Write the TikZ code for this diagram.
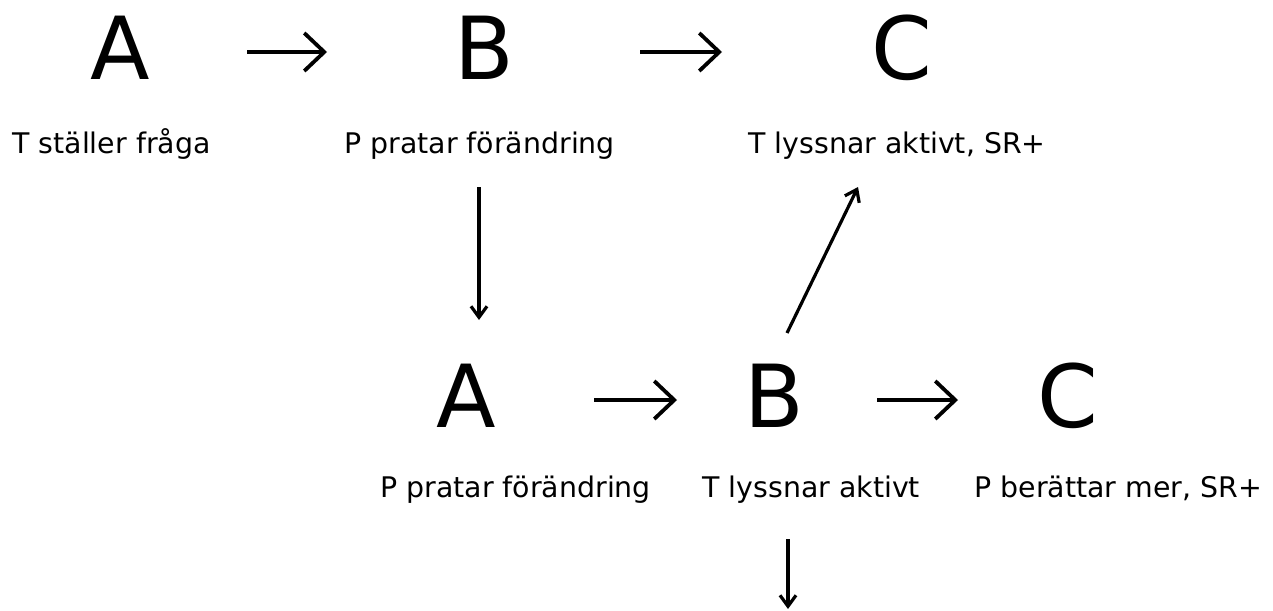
\documentclass[tikz,border=0pt]{standalone}
\usepackage{fontspec}
\setmainfont{DejaVu Sans}
\usetikzlibrary{arrows.meta}
\begin{document}
\begin{tikzpicture}[x=0.5pt,y=-0.5pt,
  letter/.style={anchor=base, inner sep=0pt, font=\fontsize{43.5}{52}\selectfont},
  lbl/.style={anchor=base west, inner sep=0pt, font=\fontsize{14.2}{17}\selectfont},
  harr/.style={line width=1.9pt, -{Straight Barb[length=10pt,width=19pt]}},
  varr/.style={line width=1.6pt, -{Straight Barb[length=5.5pt,width=8pt]}}]
\useasboundingbox (0,0) rectangle (1273,610);
% row 1
\node[letter] (A1) at (120,80) {A};
\node[letter] (B1) at (484,80) {B};
\node[letter] (C1) at (902,80) {C};
\node[lbl] (lA1) at (12,154) {T ställer fråga};
\node[lbl] (lB1) at (344,154) {P pratar förändring};
\node[lbl] (lC1) at (748,154) {T lyssnar aktivt, SR+};
% row 2
\node[letter] (A2) at (466,427) {A};
\node[letter] (B2) at (774,427) {B};
\node[letter] (C2) at (1068,427) {C};
\node[lbl] (lA2) at (380,497) {P pratar förändring};
\node[lbl] (lB2) at (702,497) {T lyssnar aktivt};
\node[lbl] (lC2) at (974,497) {P berättar mer, SR+};
% connector ends
\coordinate (h1s) at (247,52);  \coordinate (h1e) at (327,52);
\coordinate (h2s) at (640,52);  \coordinate (h2e) at (722,52);
\coordinate (h3s) at (594,400); \coordinate (h3e) at (677,400);
\coordinate (h4s) at (877,400); \coordinate (h4e) at (958,400);
\coordinate (v1s) at (479,187); \coordinate (v1e) at (479,320);
\coordinate (d1s) at (787,333); \coordinate (d1e) at (858,187);
\coordinate (v2s) at (788,539); \coordinate (v2e) at (788,609);
\draw[harr] (h1s) -- (h1e);
\draw[harr] (h2s) -- (h2e);
\draw[harr] (h3s) -- (h3e);
\draw[harr] (h4s) -- (h4e);
\draw[varr] (v1s) -- (v1e);
\draw[varr] (d1s) -- (d1e);
\draw[varr] (v2s) -- (v2e);
\end{tikzpicture}
\end{document}
